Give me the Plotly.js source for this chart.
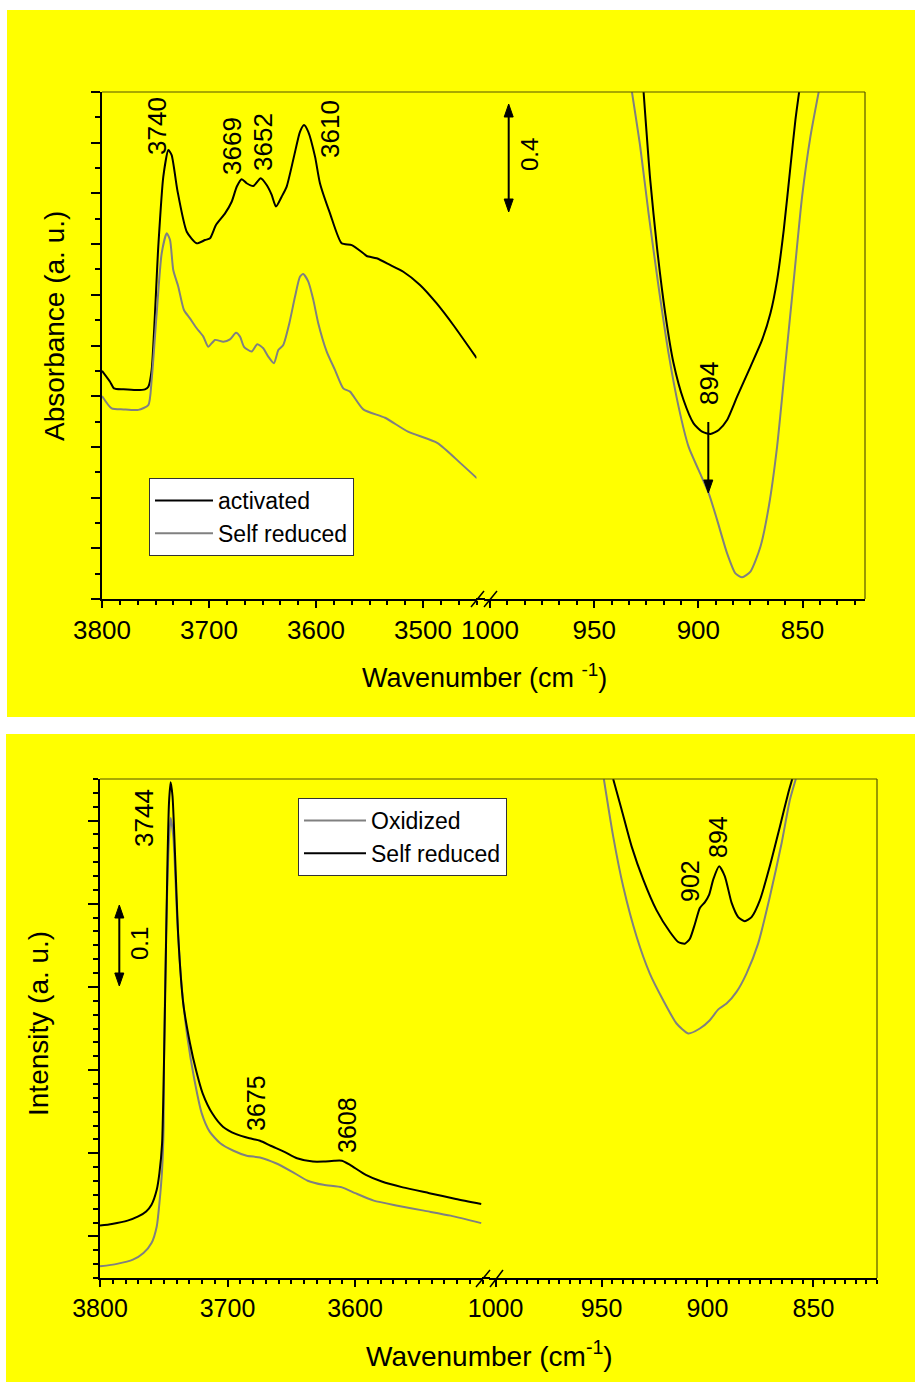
<!DOCTYPE html>
<html>
<head>
<meta charset="utf-8">
<script src="https://cdn.plot.ly/plotly-3.0.1.min.js"></script>
<style>html,body{margin:0;padding:0;background:#fff;}#chart{width:915px;height:1382px;}</style>
</head>
<body>
<div id="chart"></div>
<script>
// ---------------- DATA ----------------
// Top panel, OH region (cm-1) : activated
const topOH_wn_act = [3800,3792.5,3788.8,3780,3767.6,3759.8,3756.7,3753.6,3747.4,3742.7,3738,3734.9,3729.6,3720.8,3711.5,3703.7,3699,3693.5,3685,3678.8,3674,3669.4,3664.8,3658.6,3651.7,3646.1,3641.4,3637.4,3632.1,3627.4,3620.6,3615,3611.2,3607.2,3600.9,3596.3,3586.9,3576,3566.6,3555.8,3552.6,3543.3,3530.8,3518.4,3502.8,3487.2,3471.7,3449.8];
const topOH_abs_act = [0.900,0.857,0.831,0.827,0.824,0.827,0.837,0.903,1.390,1.666,1.771,1.751,1.613,1.449,1.403,1.416,1.423,1.475,1.521,1.567,1.627,1.656,1.640,1.629,1.660,1.633,1.594,1.548,1.587,1.627,1.745,1.843,1.870,1.843,1.745,1.640,1.521,1.403,1.396,1.364,1.353,1.344,1.318,1.291,1.239,1.166,1.081,0.950];
// Top panel, OH region : self reduced
const topOH_wn_self = [3800,3791,3780,3766,3756.7,3753.6,3748.9,3744.2,3739.5,3736.4,3733.4,3728.7,3723.4,3717.8,3711.5,3705.3,3700.7,3694.4,3686.6,3680.4,3674.8,3671,3667.3,3660.1,3654.9,3649.3,3644.6,3639.3,3635.2,3630.6,3624.9,3619.6,3615,3611.9,3607.2,3602.5,3597.9,3590,3582.2,3574.5,3568.2,3555.8,3535.5,3514,3486.4,3464.5,3449.5];
const topOH_abs_self = [0.801,0.752,0.748,0.746,0.765,0.864,1.127,1.364,1.443,1.416,1.298,1.232,1.140,1.107,1.068,1.035,0.995,1.022,1.015,1.024,1.050,1.035,0.995,0.976,1.005,0.989,0.956,0.930,0.982,1.002,1.088,1.193,1.271,1.282,1.252,1.180,1.088,0.976,0.903,0.831,0.818,0.748,0.715,0.660,0.615,0.534,0.476];
// Top panel, 1000-820 cm-1 : activated
const topLow_wn_act = [926.3,923.1,919.9,915.9,911.9,907.1,902.3,898.2,894.2,890.2,886.2,881.4,875,869.4,865.4,862.2,859,855.8,853.4,851.6];
const topLow_abs_act = [2.001,1.653,1.390,1.127,0.930,0.785,0.693,0.660,0.651,0.667,0.706,0.798,0.916,1.022,1.127,1.258,1.456,1.705,1.890,2.001];
// Top panel, 1000-820 cm-1 : self reduced
const topLow_wn_self = [931.9,927.9,923.9,919.1,914.3,909.5,904.7,899.9,895,891,886.2,882.2,879,875,870.2,866.2,862.2,858.2,854.2,850.2,846.2,842.2];
const topLow_abs_self = [2.001,1.784,1.521,1.232,0.969,0.759,0.601,0.509,0.417,0.312,0.180,0.101,0.086,0.108,0.206,0.364,0.601,0.930,1.258,1.587,1.824,2.001];

// Bottom panel, OH region : oxidized
const botOH_wn_ox = [3800,3786.7,3774.2,3765.9,3759.6,3755.5,3753.4,3751.3,3750.1,3749.8,3748.2,3746.4,3744.6,3742.5,3739.4,3735.9,3731.5,3726.4,3720.2,3714,3705.7,3695.3,3684.9,3674.5,3662,3649.6,3637.1,3624.7,3610.2,3599.8,3585.3,3566.6,3545.9,3525,3501];
const botOH_int_ox = [0.064,0.067,0.072,0.080,0.092,0.112,0.140,0.180,0.232,0.312,0.460,0.561,0.603,0.581,0.480,0.400,0.340,0.292,0.248,0.226,0.212,0.203,0.197,0.195,0.188,0.178,0.167,0.162,0.159,0.152,0.143,0.137,0.131,0.125,0.116];
// Bottom panel, OH region : self reduced
const botOH_wn_self = [3800,3790.7,3778.4,3770,3763.8,3759.6,3755.5,3753.4,3751.3,3749,3747.2,3745.9,3744.6,3743.1,3741.2,3738.6,3734.7,3729.4,3724.7,3719.5,3712,3703.6,3693.2,3682.8,3674.5,3666.2,3655.8,3645.5,3633,3624.7,3616.4,3610.2,3603.9,3591.5,3579,3562.5,3541.7,3520.9,3501];
const botOH_int_self = [0.113,0.115,0.119,0.124,0.130,0.138,0.156,0.176,0.212,0.380,0.541,0.621,0.646,0.629,0.561,0.460,0.380,0.332,0.300,0.272,0.248,0.232,0.223,0.218,0.215,0.209,0.202,0.194,0.190,0.190,0.191,0.191,0.186,0.174,0.166,0.159,0.152,0.145,0.139];
// Bottom panel, 1000-820 cm-1 : oxidized
const botLow_wn_ox = [948.9,944.5,939.8,933.4,927.2,920.9,914.6,909.1,903.6,898.9,894.9,891,886.3,881.6,876.1,870.6,865,861.1,858.3];
const botLow_int_ox = [0.650,0.581,0.521,0.460,0.416,0.384,0.356,0.344,0.350,0.360,0.373,0.380,0.394,0.416,0.452,0.508,0.573,0.625,0.650];
// Bottom panel, 1000-820 cm-1 : self reduced
const botLow_wn_self = [944.5,940.5,935.8,930.3,924,917.7,913.8,910.7,908.3,905.9,903.6,901.2,899.2,897.3,894.5,891.8,888.6,885.5,882.4,879.2,875.3,870.6,865.8,861.9,860];
const botLow_int_self = [0.650,0.613,0.569,0.529,0.492,0.466,0.454,0.452,0.458,0.476,0.495,0.502,0.511,0.529,0.545,0.533,0.501,0.484,0.479,0.484,0.504,0.545,0.593,0.633,0.650];

// Tick labels
const topOHTicks = [3800, 3700, 3600, 3500];
const botOHTicks = [3800, 3700, 3600];
const lowTicks = [1000, 950, 900, 850];

// Names / labels
const topNames = ["activated", "Self reduced"];
const botNames = ["Oxidized", "Self reduced"];
const topPeakLabels = ["3740", "3669", "3652", "3610", "894"];
const botPeakLabels = ["3744", "3675", "3608", "902", "894"];
const scaleLabels = ["0.4", "0.1"];

// ---------------- LAYOUT HELPERS ----------------
const W = 915, H = 1382;
const px = x => x / W;
const py = y => 1 - y / H;
const FONT = "Liberation Sans, Arial, Helvetica, sans-serif";
const BLACK = "#000000", GRAY = "#808080", YEL = "#ffff00";

function lineTrace(x, y, color, name, xa, ya, leg, show) {
  return {x: x, y: y, type: "scatter", mode: "lines", name: name,
    line: {color: color, width: 2, shape: "spline", smoothing: 0.6},
    xaxis: xa, yaxis: ya, legend: leg, showlegend: show, hoverinfo: "skip"};
}

const traces = [
  lineTrace(topOH_wn_act, topOH_abs_act, BLACK, topNames[0], "x", "y", "legend", true),
  lineTrace(topOH_wn_self, topOH_abs_self, GRAY, topNames[1], "x", "y", "legend", true),
  lineTrace(topLow_wn_act, topLow_abs_act, BLACK, topNames[0], "x2", "y", "legend", false),
  lineTrace(topLow_wn_self, topLow_abs_self, GRAY, topNames[1], "x2", "y", "legend", false),
  lineTrace(botOH_wn_ox, botOH_int_ox, GRAY, botNames[0], "x3", "y2", "legend2", true),
  lineTrace(botOH_wn_self, botOH_int_self, BLACK, botNames[1], "x3", "y2", "legend2", true),
  lineTrace(botLow_wn_ox, botLow_int_ox, GRAY, botNames[0], "x4", "y2", "legend2", false),
  lineTrace(botLow_wn_self, botLow_int_self, BLACK, botNames[1], "x4", "y2", "legend2", false)
];

function xAxis(domain, range, tickvals, minorDtick, anchor, fsize) {
  return {domain: domain, range: range, anchor: anchor, tickvals: tickvals,
    ticktext: tickvals.map(String), ticks: "outside", ticklen: 7, tickwidth: 2, tickcolor: BLACK,
    showline: true, linewidth: 2, linecolor: BLACK, showgrid: false, zeroline: false,
    tickfont: {family: FONT, size: fsize, color: BLACK},
    minor: {dtick: minorDtick, tick0: tickvals[0], ticks: "outside", ticklen: 4, tickwidth: 2, tickcolor: BLACK, showgrid: false},
    fixedrange: true};
}
function yAxis(domain, range, dtick, minorDtick, anchor, tlen) {
  return {domain: domain, range: range, anchor: anchor, dtick: dtick, tick0: 0,
    ticks: "outside", ticklen: tlen, tickwidth: 2, tickcolor: BLACK, showticklabels: false,
    showline: true, linewidth: 2, linecolor: BLACK, showgrid: false, zeroline: false,
    minor: {dtick: minorDtick, tick0: 0, ticks: "outside", ticklen: 5, tickwidth: 2, tickcolor: BLACK, showgrid: false},
    fixedrange: true};
}

const yTop = [py(599), py(92)];
const yBot = [py(1278), py(779)];

function pline(x0, y0, x1, y1, color, width) {
  return {type: "line", xref: "paper", yref: "paper", x0: px(x0), x1: px(x1), y0: py(y0), y1: py(y1), line: {color: color, width: width}};
}
// vertical arrow from yTail (top) to yHead (bottom); optional head at the top too
function vArrow(x, yTop_, yBottom, both) {
  const hl = 13, hw = 4.5;
  const out = [pline(x, both ? yTop_ + hl - 1 : yTop_, x, yBottom - hl + 1, BLACK, 2)];
  const tri = (tipY, baseY) => ({type: "path", xref: "paper", yref: "paper",
    path: "M" + px(x - hw) + "," + py(baseY) + " L" + px(x + hw) + "," + py(baseY) + " L" + px(x) + "," + py(tipY) + " Z",
    fillcolor: BLACK, line: {color: BLACK, width: 1}});
  out.push(tri(yBottom, yBottom - hl));
  if (both) out.push(tri(yTop_, yTop_ + hl));
  return out;
}

const shapes = [
  // panel backgrounds
  {type: "rect", xref: "paper", yref: "paper", x0: px(7), x1: px(915), y0: py(717), y1: py(10), fillcolor: YEL, line: {width: 0}, layer: "below"},
  {type: "rect", xref: "paper", yref: "paper", x0: px(6), x1: px(915), y0: py(1382), y1: py(734), fillcolor: YEL, line: {width: 0}, layer: "below"},
  // frame (top & right), thin
  pline(102, 92, 865, 92, "#555500", 1.2),
  pline(865, 92, 865, 599, "#555500", 1.2),
  pline(100, 779, 877, 779, "#555500", 1.2),
  pline(877, 779, 877, 1278, "#555500", 1.2),
  // axis continuation across the break
  pline(476, 599, 485, 599, BLACK, 2),
  pline(482, 1278, 490, 1278, BLACK, 2),
  // break marks
  pline(471, 607, 484, 591, BLACK, 1.5),
  pline(484, 607, 497, 591, BLACK, 1.5),
  pline(476, 1287, 490, 1270, BLACK, 1.5),
  pline(490, 1287, 503, 1270, BLACK, 1.5)
].concat(vArrow(708.3, 422, 493, false))
 .concat(vArrow(508.7, 104, 212, true))
 .concat(vArrow(119.3, 905, 986, true));

function label(text, x, y, size, angle) {
  return {text: text, xref: "paper", yref: "paper", x: px(x), y: py(y), xanchor: "center", yanchor: "middle",
    textangle: angle, showarrow: false, font: {family: FONT, size: size, color: BLACK}};
}

const annotations = [
  label(topPeakLabels[0], 157, 126, 26, -90),
  label(topPeakLabels[1], 232, 146, 26, -90),
  label(topPeakLabels[2], 263, 142, 26, -90),
  label(topPeakLabels[3], 330, 129, 26, -90),
  label(topPeakLabels[4], 709, 384, 26, -90),
  label(scaleLabels[0], 529, 155, 24, -90),
  label(botPeakLabels[0], 144, 818, 26, -90),
  label(botPeakLabels[1], 256, 1103, 25, -90),
  label(botPeakLabels[2], 347, 1125, 25, -90),
  label(botPeakLabels[3], 690, 881, 25, -90),
  label(botPeakLabels[4], 718, 837, 25, -90),
  label(scaleLabels[1], 140, 944, 24, -90),
  // axis titles
  label("Wavenumber (cm <sup>-1</sup>)", 484, 676, 27, 0),
  label("Wavenumber (cm<sup>-1</sup>)", 489, 1354, 28, 0),
  label("Absorbance (a. u.)", 54, 326, 28, -90),
  label("Intensity (a. u.)", 39, 1024, 28, -90)
];

const layout = {
  width: W, height: H,
  margin: {l: 0, r: 0, t: 0, b: 0, pad: 0},
  paper_bgcolor: "#ffffff",
  plot_bgcolor: YEL,
  font: {family: FONT, color: BLACK},
  xaxis: xAxis([px(102), px(476.5)], [3800, 3450], topOHTicks, 100 / 6, "y", 26),
  xaxis2: xAxis([px(484), px(865)], [1002.9, 820], lowTicks, 50 / 6, "y", 26),
  xaxis3: xAxis([px(100), px(482.5)], [3800, 3500], botOHTicks, 10, "y2", 25),
  xaxis4: xAxis([px(489), px(877)], [1003.1, 820], lowTicks, 5, "y2", 25),
  yaxis: yAxis(yTop, [0, 2], 0.2, 0.1, "x", 9),
  yaxis2: yAxis(yBot, [0.05, 0.65], 0.1, 0.1 / 6, "x3", 10),
  legend: {x: px(149), y: py(478), xanchor: "left", yanchor: "top", bgcolor: "#ffffff", bordercolor: "#333333", borderwidth: 1,
    font: {family: FONT, size: 23, color: BLACK}, itemwidth: 58, tracegroupgap: 0},
  legend2: {x: px(298), y: py(798), xanchor: "left", yanchor: "top", bgcolor: "#ffffff", bordercolor: "#333333", borderwidth: 1,
    font: {family: FONT, size: 23, color: BLACK}, itemwidth: 62, tracegroupgap: 0},
  shapes: shapes,
  annotations: annotations
};

Plotly.newPlot("chart", traces, layout, {displayModeBar: false, staticPlot: true});
</script>
</body>
</html>
